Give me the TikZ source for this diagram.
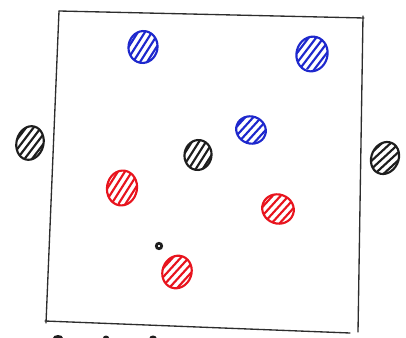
\documentclass[tikz,border=0pt]{standalone}
\usetikzlibrary{shapes.geometric}
\definecolor{penblue}{RGB}{30,40,205}
\definecolor{penred}{RGB}{232,20,30}
\definecolor{penblack}{RGB}{30,30,30}
\definecolor{pengray}{RGB}{45,45,45}
\tikzset{
  blob/.style={ellipse, draw=#1, fill=white, line width=1.6pt, inner sep=0pt,
    path picture={
      \foreach \k in {-4,...,4}
        \draw[#1, line width=1.6pt]
          ([shift={(\k*6.4-7,17)}]path picture bounding box.center) -- ++(14,-34);
    }},
  frame/.style={draw=pengray, line width=1pt, line cap=round},
  frag/.style={fill=penblack, draw=none}
}
\begin{document}
\begin{tikzpicture}[x=0.75pt, y=-0.75pt]
\useasboundingbox (0,0) rectangle (406,338);
% frame corners
\coordinate (tl) at (59,11);
\coordinate (tr) at (364,18);
\coordinate (br) at (358,332);
\coordinate (bl) at (45,321);
\draw[frame] (tl) -- (tr);
\draw[frame] ([shift={(-1,-2)}]tr) -- (br);
\draw[frame] (tl) -- ([shift={(1,2)}]bl);
\draw[frame] (bl) -- ([shift={(-8,1)}]br);
% blobs
\node[blob=penblue, minimum width=29*0.75pt, minimum height=32*0.75pt, rotate=-10] (b1) at (143,47) {};
\node[blob=penblue, minimum width=31*0.75pt, minimum height=35*0.75pt, rotate=-15] (b2) at (312,54) {};
\node[blob=penblue, minimum width=30*0.75pt, minimum height=27*0.75pt, rotate=-20] (b3) at (251,130) {};
\node[blob=penblack, minimum width=27*0.75pt, minimum height=34*0.75pt, rotate=-15] (k1) at (30,143) {};
\node[blob=penblack, minimum width=27*0.75pt, minimum height=30*0.75pt, rotate=-10] (k2) at (198,155) {};
\node[blob=penblack, minimum width=27*0.75pt, minimum height=33*0.75pt, rotate=-25] (k3) at (385,158) {};
\node[blob=penred, minimum width=30*0.75pt, minimum height=35*0.75pt, rotate=-10] (r1) at (122,188) {};
\node[blob=penred, minimum width=32*0.75pt, minimum height=29*0.75pt, rotate=-20] (r2) at (278,209) {};
\node[blob=penred, minimum width=29*0.75pt, minimum height=33*0.75pt, rotate=-20] (r3) at (177,272) {};
\node[circle, draw=penblack, line width=2pt, minimum size=5.5*0.75pt, inner sep=0pt] (dot) at (159,246) {};
% cut-off marks at the bottom edge
\fill[frag] (58,338) ellipse [x radius=5, y radius=3];
\fill[frag] (106,338) ellipse [x radius=3, y radius=2.5];
\fill[frag] (153,338) ellipse [x radius=3.5, y radius=2.5];
\end{tikzpicture}
\end{document}
